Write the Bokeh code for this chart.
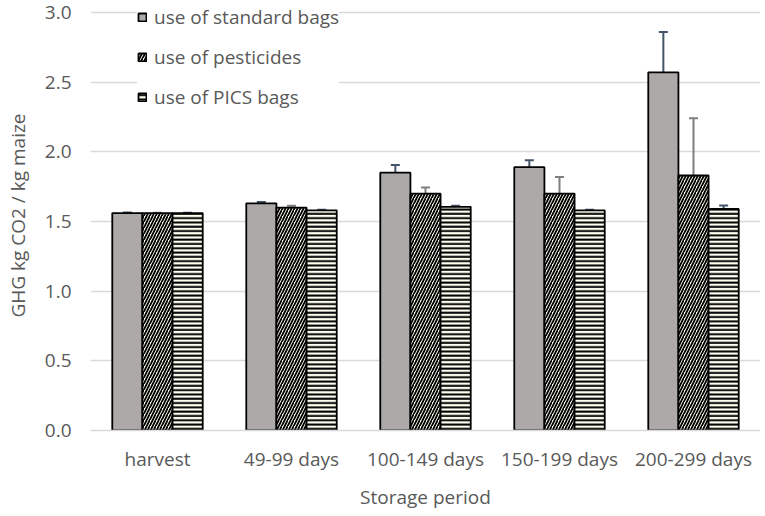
from bokeh.plotting import figure
from bokeh.models import ColumnDataSource, FactorRange, Whisker, TeeHead, Legend, LegendItem, FixedTicker, NumeralTickFormatter, Range1d
from bokeh.transform import dodge
from bokeh.embed import file_html
from bokeh.resources import INLINE

categories = ["harvest", "49-99 days", "100-149 days", "150-199 days", "200-299 days"]
standard = [1.56, 1.63, 1.85, 1.89, 2.57]
standard_err = [0.004, 0.01, 0.055, 0.05, 0.29]
pesticides = [1.56, 1.60, 1.70, 1.70, 1.83]
pesticides_err = [0.003, 0.012, 0.043, 0.12, 0.41]
pics = [1.56, 1.58, 1.605, 1.58, 1.59]
pics_err = [0.003, 0.005, 0.008, 0.004, 0.024]
y_ticks = [0.0, 0.5, 1.0, 1.5, 2.0, 2.5, 3.0]

src = ColumnDataSource(dict(
    cat=categories,
    std=standard, std_lo=[v - e for v, e in zip(standard, standard_err)], std_hi=[v + e for v, e in zip(standard, standard_err)],
    pes=pesticides, pes_lo=[v - e for v, e in zip(pesticides, pesticides_err)], pes_hi=[v + e for v, e in zip(pesticides, pesticides_err)],
    pic=pics, pic_lo=[v - e for v, e in zip(pics, pics_err)], pic_hi=[v + e for v, e in zip(pics, pics_err)],
))

FONT = "Open Sans"
TXT = "#595959"

# frame reaches the top edge; range top is a little above 3.0 so the 3.0 gridline sits 12px down
p = figure(x_range=FactorRange(*categories), y_range=Range1d(0, 3.0 + 12 / 140), width=760, height=512,
           output_backend="svg", toolbar_location=None,
           min_border_left=90, min_border_right=0, min_border_top=0, min_border_bottom=80)
p.outline_line_color = None
p.xgrid.grid_line_color = None
p.ygrid.grid_line_color = "#D9D9D9"
p.ygrid.grid_line_width = 1.5

W = 0.225
GRAY = "#ADA9A9"
CREAM = "#FFFFF2"
r1 = p.vbar(x=dodge("cat", -W, range=p.x_range), top="std", width=W, source=src,
            fill_color=GRAY, line_color="black", line_width=1.8)
r2 = p.vbar(x=dodge("cat", 0, range=p.x_range), top="pes", width=W, source=src,
            fill_color=CREAM, line_color="black", line_width=1.8,
            hatch_pattern="/", hatch_color="black", hatch_weight=1.8, hatch_scale=6)
r3 = p.vbar(x=dodge("cat", W, range=p.x_range), top="pic", width=W, source=src,
            fill_color=CREAM, line_color="black", line_width=1.8,
            hatch_pattern="-", hatch_color="black", hatch_weight=2, hatch_scale=4.3)

for off, lo, hi, col in [(-W, "std_lo", "std_hi", "#44546A"), (0, "pes_lo", "pes_hi", "#7F7F7F"), (W, "pic_lo", "pic_hi", "#44546A")]:
    wk = Whisker(base=dodge("cat", off, range=p.x_range), lower=lo, upper=hi, source=src,
                 line_color=col, line_width=2,
                 upper_head=TeeHead(size=9, line_color=col, line_width=2),
                 lower_head=TeeHead(size=9, line_color=col, line_width=2))
    p.add_layout(wk)

p.yaxis.ticker = FixedTicker(ticks=y_ticks)
p.yaxis.formatter = NumeralTickFormatter(format="0.0")
p.yaxis.axis_line_color = None
p.yaxis.major_tick_line_color = None
p.yaxis.minor_tick_line_color = None
p.yaxis.major_tick_out = 0
p.yaxis.major_tick_in = 0
p.yaxis.major_label_standoff = 19
p.yaxis.axis_label = "GHG kg CO2 / kg maize"
p.yaxis.axis_label_standoff = 11

p.xaxis.axis_line_color = "#D9D9D9"
p.xaxis.axis_line_width = 1.5
p.xaxis.major_tick_line_color = None
p.xaxis.minor_tick_line_color = None
p.xaxis.major_tick_out = 0
p.xaxis.major_tick_in = 0
p.xaxis.major_label_standoff = 15
p.xaxis.axis_label = "Storage period"
p.xaxis.axis_label_standoff = 9

for ax in (p.xaxis[0], p.yaxis[0]):
    ax.major_label_text_font = FONT
    ax.major_label_text_font_size = "19px"
    ax.major_label_text_color = TXT
    ax.axis_label_text_font = FONT
    ax.axis_label_text_font_size = "19px"
    ax.axis_label_text_font_style = "normal"
    ax.axis_label_text_color = TXT

legend = Legend(items=[LegendItem(label="use of standard bags", renderers=[r1]),
                       LegendItem(label="use of pesticides", renderers=[r2]),
                       LegendItem(label="use of PICS bags", renderers=[r3])],
                location=(47, 320), padding=4, spacing=14, margin=0,
                label_height=25, glyph_height=10, glyph_width=10, label_standoff=7,
                label_text_font=FONT, label_text_font_size="19px", label_text_color=TXT,
                border_line_color=None, background_fill_color="white", background_fill_alpha=1.0)
p.add_layout(legend)

open("out.html", "w").write(file_html(p, INLINE))
